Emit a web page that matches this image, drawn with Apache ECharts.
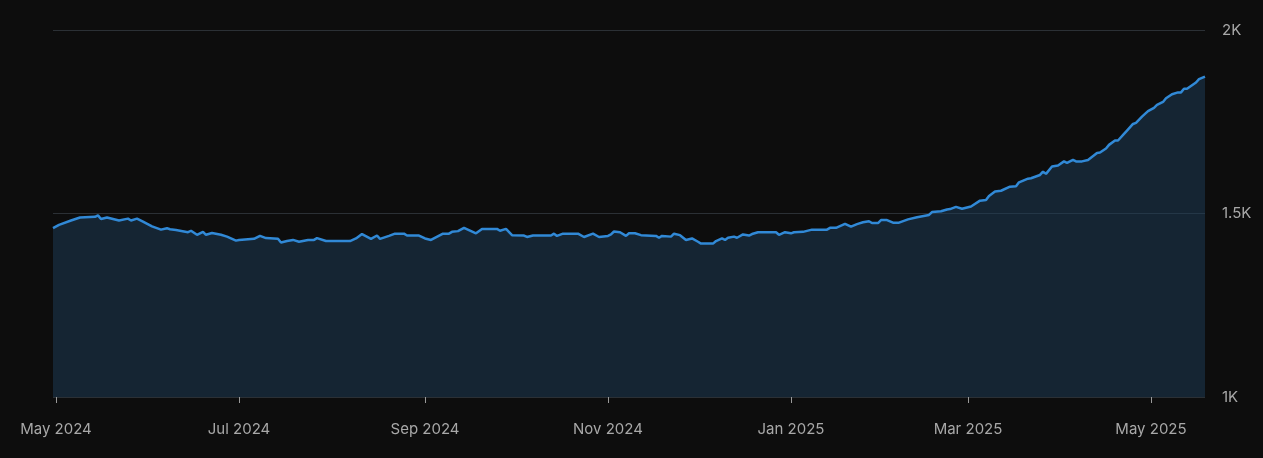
<!DOCTYPE html>
<html>
<head>
<meta charset="utf-8">
<style>
html,body{margin:0;padding:0;background:#0d0d0d;}
#chart{width:1263px;height:458px;}
</style>
<script src="https://cdn.jsdelivr.net/npm/echarts@6/dist/echarts.min.js"></script>
</head>
<body>
<div id="chart"></div>
<script>
const dates = [
'2024-04-30','2024-05-02','2024-05-06','2024-05-09','2024-05-14','2024-05-15','2024-05-16','2024-05-18','2024-05-22','2024-05-25',
'2024-05-26','2024-05-28','2024-05-30','2024-06-02','2024-06-05','2024-06-07','2024-06-08','2024-06-10','2024-06-14','2024-06-15',
'2024-06-17','2024-06-19','2024-06-20','2024-06-22','2024-06-25','2024-06-27','2024-06-30','2024-07-01','2024-07-06','2024-07-08',
'2024-07-10','2024-07-14','2024-07-15','2024-07-17','2024-07-19','2024-07-21','2024-07-24','2024-07-26','2024-07-27','2024-07-30',
'2024-08-07','2024-08-09','2024-08-11','2024-08-14','2024-08-16','2024-08-17','2024-08-20','2024-08-22','2024-08-25','2024-08-26',
'2024-08-30','2024-09-01','2024-09-03','2024-09-07','2024-09-09','2024-09-10','2024-09-12','2024-09-14','2024-09-18','2024-09-20',
'2024-09-25','2024-09-26','2024-09-28','2024-09-30','2024-10-04','2024-10-05','2024-10-07','2024-10-13','2024-10-14','2024-10-15',
'2024-10-17','2024-10-22','2024-10-24','2024-10-27','2024-10-29','2024-11-01','2024-11-02','2024-11-03','2024-11-05','2024-11-07',
'2024-11-08','2024-11-10','2024-11-12','2024-11-17','2024-11-18','2024-11-19','2024-11-22','2024-11-23','2024-11-25','2024-11-27',
'2024-11-29','2024-12-01','2024-12-02','2024-12-06','2024-12-07','2024-12-09','2024-12-10','2024-12-11','2024-12-13','2024-12-14',
'2024-12-16','2024-12-18','2024-12-19','2024-12-21','2024-12-27','2024-12-28','2024-12-30','2025-01-01','2025-01-02','2025-01-05',
'2025-01-08','2025-01-13','2025-01-14','2025-01-16','2025-01-19','2025-01-21','2025-01-23','2025-01-25','2025-01-27','2025-01-28',
'2025-01-30','2025-01-31','2025-02-02','2025-02-04','2025-02-06','2025-02-09','2025-02-12','2025-02-16','2025-02-17','2025-02-20',
'2025-02-22','2025-02-23','2025-02-25','2025-02-27','2025-03-01','2025-03-02','2025-03-05','2025-03-07','2025-03-08','2025-03-10',
'2025-03-12','2025-03-15','2025-03-17','2025-03-18','2025-03-21','2025-03-22','2025-03-25','2025-03-26','2025-03-27','2025-03-29',
'2025-03-31','2025-04-02','2025-04-03','2025-04-05','2025-04-06','2025-04-08','2025-04-10','2025-04-13','2025-04-14','2025-04-16',
'2025-04-17','2025-04-19','2025-04-20','2025-04-22','2025-04-23','2025-04-25','2025-04-26','2025-04-28','2025-04-30','2025-05-02',
'2025-05-03','2025-05-05','2025-05-06','2025-05-08','2025-05-10','2025-05-11','2025-05-12','2025-05-13','2025-05-16','2025-05-17',
'2025-05-19'
];
const values = [
1460,1469,1481,1489,1491,1495,1485,1489,1481,1486,
1481,1486,1478,1465,1456,1460,1457,1455,1449,1453,
1442,1450,1442,1447,1442,1437,1426,1428,1431,1439,
1433,1431,1421,1425,1428,1423,1428,1428,1433,1425,
1425,1432,1444,1431,1440,1431,1439,1445,1445,1440,
1440,1432,1428,1445,1445,1450,1452,1461,1446,1458,
1458,1453,1458,1441,1440,1436,1440,1440,1445,1439,
1445,1445,1436,1445,1436,1439,1443,1451,1449,1439,
1446,1446,1441,1439,1434,1439,1437,1445,1441,1428,
1432,1423,1418,1418,1425,1432,1428,1434,1437,1434,
1443,1440,1444,1449,1449,1442,1449,1446,1449,1450,
1456,1456,1461,1461,1472,1464,1471,1476,1479,1474,
1474,1482,1482,1475,1475,1484,1490,1496,1504,1506,
1511,1512,1518,1513,1517,1519,1535,1537,1548,1560,
1562,1573,1574,1585,1595,1596,1605,1614,1608,1628,
1631,1642,1638,1646,1642,1642,1646,1665,1666,1677,
1687,1699,1699,1717,1726,1744,1747,1764,1779,1788,
1796,1804,1814,1825,1830,1830,1840,1840,1857,1866,
1873
];
const tickDates = ['2024-05-01','2024-07-01','2024-09-01','2024-11-01','2025-01-01','2025-03-01','2025-05-01'];
const tickLabels = ['May 2024','Jul 2024','Sep 2024','Nov 2024','Jan 2025','Mar 2025','May 2025'];
const yTicks = [1000, 1500, 2000];
const yTickLabels = ['1K', '1.5K', '2K'];

function ts(s){ const p = s.split('-').map(Number); return Date.UTC(p[0], p[1]-1, p[2]); }
const tickTs = tickDates.map(ts);
const seriesData = dates.map((d,i)=>[ts(d), values[i]]);

const chart = echarts.init(document.getElementById('chart'), null, {renderer:'canvas'});
chart.setOption({
  backgroundColor: '#0d0d0d',
  animation: false,
  grid: {left: 53, right: 58, top: 30, bottom: 61, containLabel: false},
  xAxis: {
    type: 'value',
    min: ts('2024-04-30'),
    max: ts('2025-05-19'),
    axisLine: {show: false},
    axisTick: {show: true, customValues: tickTs, length: 6, lineStyle: {color: '#9a9a9a', width: 1}},
    splitLine: {show: false},
    axisLabel: {
      customValues: tickTs,
      color: '#a8a8a8',
      fontFamily: 'Inter, sans-serif',
      fontSize: 15,
      margin: 25,
      formatter: function(v){ const i = tickTs.indexOf(Number(v)); return i >= 0 ? tickLabels[i] : ''; }
    }
  },
  yAxis: {
    type: 'value',
    position: 'right',
    min: 1000, max: 2000, interval: 500,
    axisLine: {show: false},
    axisTick: {show: false},
    splitLine: {show: true, lineStyle: {color: '#2b3035', width: 1.2}},
    axisLabel: {
      color: '#a8a8a8',
      fontFamily: 'Inter, sans-serif',
      fontSize: 15,
      margin: 17,
      formatter: function(v){ const i = yTicks.indexOf(v); return i >= 0 ? yTickLabels[i] : ''; }
    }
  },
  series: [{
    type: 'line',
    data: seriesData,
    showSymbol: false,
    lineStyle: {color: '#3189d6', width: 2.5},
    itemStyle: {color: '#3189d6'},
    areaStyle: {color: 'rgba(29,61,89,0.5)', opacity: 1, origin: 'start'},
    z: 2
  }]
});
</script>
</body>
</html>
